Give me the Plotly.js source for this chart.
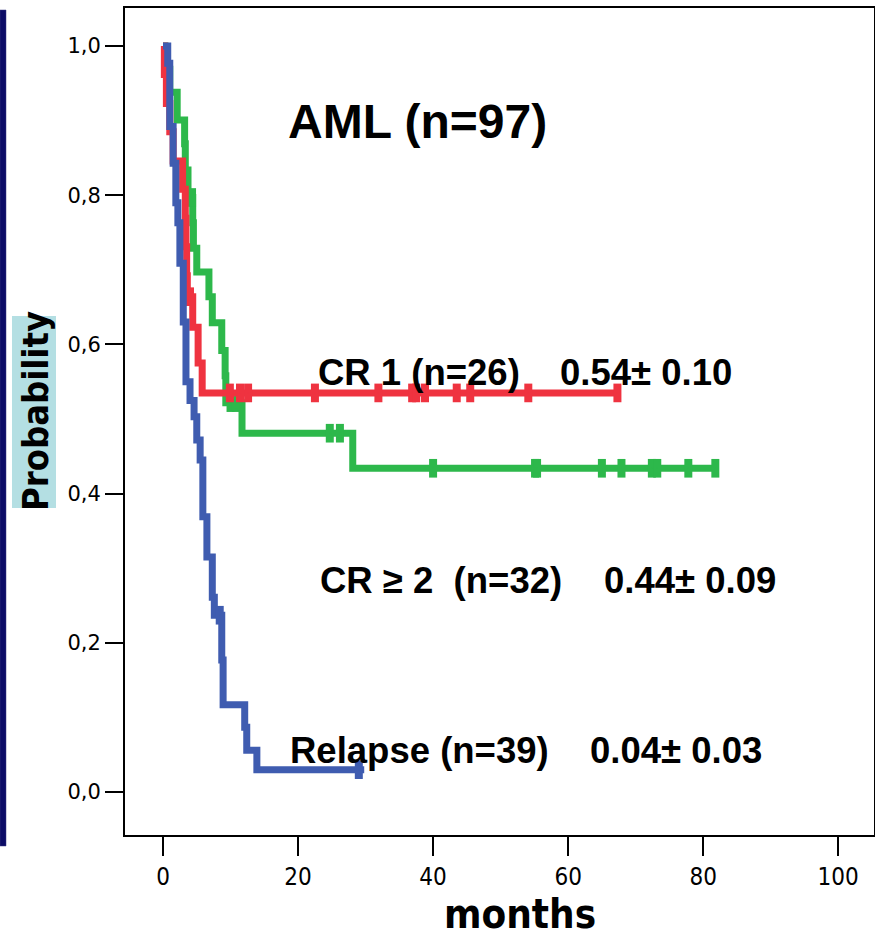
<!DOCTYPE html>
<html>
<head>
<meta charset="utf-8">
<script src="https://cdn.plot.ly/plotly-3.0.1.min.js"></script>
<style>html,body{margin:0;padding:0;background:#fff;}#chart{width:875px;height:939px;}</style>
</head>
<body>
<div id="chart"></div>
<script>
// ---- Data ----
const cr1Times   = [0, 0.2, 0.5, 1.0, 1.5, 2.9, 3.3, 3.4, 3.5, 3.6, 4.4, 5.2, 5.8, 67.3];
const cr1Surv    = [1.0, 0.962, 0.923, 0.885, 0.846, 0.808, 0.769, 0.731, 0.692, 0.664, 0.623, 0.575, 0.535, 0.535];
const cr1Censor  = [4.0, 9.9, 11.4, 12.6, 22.5, 31.9, 36.9, 37.5, 38.8, 43.5, 45.5, 54.1, 67.3];

const cr2Times   = [0, 0.3, 1.0, 2.1, 3.2, 3.3, 3.7, 4.4, 4.5, 5.0, 6.8, 7.3, 8.7, 9.2, 9.3, 11.7, 28.1, 81.8];
const cr2Surv    = [1.0, 0.969, 0.938, 0.901, 0.869, 0.834, 0.797, 0.763, 0.729, 0.697, 0.664, 0.629, 0.592, 0.558, 0.522, 0.481, 0.434, 0.434];
const cr2Censor  = [4.3, 10.0, 10.8, 24.7, 26.2, 40.0, 55.1, 55.4, 65.0, 67.9, 72.4, 73.2, 77.8, 81.8];

const relTimes   = [0, 0.7, 1.0, 1.5, 1.9, 2.2, 2.5, 3.0, 3.4, 4.0, 4.6, 5.0, 5.5, 5.9, 6.5, 7.3, 7.6, 8.7, 8.9, 12.1, 12.4, 13.9, 29.8];
const relSurv    = [1.0, 0.977, 0.892, 0.843, 0.79, 0.763, 0.709, 0.63, 0.55, 0.525, 0.503, 0.472, 0.445, 0.369, 0.315, 0.261, 0.237, 0.177, 0.117, 0.087, 0.056, 0.03, 0.03];
const relCensor  = [8.4, 29.0];

const xTickVals  = [0, 20, 40, 60, 80, 100];
const yTickVals  = [0, 0.2, 0.4, 0.6, 0.8, 1.0];
const yTickText  = ['0,0', '0,2', '0,4', '0,6', '0,8', '1,0'];

const titleText  = 'AML (n=97)';
const groupLabels = ['CR 1 (n=26)', 'CR \u2265 2  (n=32)', 'Relapse (n=39)'];
const groupStats  = ['0.54\u00b1 0.10', '0.44\u00b1 0.09', '0.04\u00b1 0.03'];

// ---- Styles ----
const RED = '#ef3340', GREEN = '#2db84b', BLUE = '#3f5cb0';
const NARROW = 'DejaVu Sans Condensed, Liberation Sans Narrow, Arial Narrow, sans-serif';

function survAt(times, surv, t) {
  let v = surv[0];
  for (let i = 0; i < times.length; i++) { if (times[i] <= t) v = surv[i]; }
  return v;
}
function curve(times, surv, color) {
  return {x: times, y: surv, type: 'scatter', mode: 'lines',
          line: {shape: 'hv', color: color, width: 7}, hoverinfo: 'skip', showlegend: false};
}
function censor(ctimes, times, surv, color) {
  return {x: ctimes, y: ctimes.map(t => survAt(times, surv, t)), type: 'scatter', mode: 'markers',
          marker: {size: 1, color: color},
          error_y: {type: 'constant', value: 0.0125, thickness: 8, width: 0, color: color},
          hoverinfo: 'skip', showlegend: false};
}

const traces = [
  curve(cr2Times, cr2Surv, GREEN), censor(cr2Censor, cr2Times, cr2Surv, GREEN),
  curve(cr1Times, cr1Surv, RED),   censor(cr1Censor, cr1Times, cr1Surv, RED),
  curve(relTimes, relSurv, BLUE),  censor(relCensor, relTimes, relSurv, BLUE)
];

// pixel -> paper helpers (plot area 125..874 x 8..835)
const PL = 125, PR = 874, PT = 8, PB = 835;
const px = v => (v - PL) / (PR - PL);
const py = v => (PB - v) / (PB - PT);

const boldFont = (size) => ({family: 'Liberation Sans, Arial, sans-serif', size: size, color: '#000', weight: 'bold'});

const annotations = [
  {xref: 'paper', yref: 'paper', x: px(417), y: py(122), text: titleText, showarrow: false,
   xanchor: 'center', yanchor: 'middle', font: boldFont(48)},
  {xref: 'paper', yref: 'paper', x: px(316), y: py(372), text: groupLabels[0], showarrow: false,
   xanchor: 'left', yanchor: 'middle', font: boldFont(36.5)},
  {xref: 'paper', yref: 'paper', x: px(558), y: py(372), text: groupStats[0], showarrow: false,
   xanchor: 'left', yanchor: 'middle', font: boldFont(36.5)},
  {xref: 'paper', yref: 'paper', x: px(318), y: py(580), text: groupLabels[1], showarrow: false,
   xanchor: 'left', yanchor: 'middle', font: boldFont(36.5)},
  {xref: 'paper', yref: 'paper', x: px(602), y: py(580), text: groupStats[1], showarrow: false,
   xanchor: 'left', yanchor: 'middle', font: boldFont(36.5)},
  {xref: 'paper', yref: 'paper', x: px(288), y: py(750), text: groupLabels[2], showarrow: false,
   xanchor: 'left', yanchor: 'middle', font: boldFont(36.5)},
  {xref: 'paper', yref: 'paper', x: px(588), y: py(750), text: groupStats[2], showarrow: false,
   xanchor: 'left', yanchor: 'middle', font: boldFont(36.5)},
  {xref: 'paper', yref: 'paper', x: px(520), y: py(914), text: 'months', showarrow: false,
   xanchor: 'center', yanchor: 'middle',
   font: {family: NARROW, size: 40, color: '#000', weight: 'bold'}},
  {xref: 'paper', yref: 'paper', x: px(35), y: py(411), text: 'Probability', showarrow: false,
   textangle: -90, xanchor: 'center', yanchor: 'middle',
   font: {family: NARROW, size: 36, color: '#000', weight: 'bold'}}
];

const shapes = [
  {type: 'rect', xref: 'paper', yref: 'paper', x0: px(12), x1: px(56), y0: py(508), y1: py(316),
   fillcolor: '#b4dfe3', line: {width: 0}, layer: 'below'},
  {type: 'rect', xref: 'paper', yref: 'paper', x0: px(0), x1: px(6), y0: py(846), y1: py(10),
   fillcolor: '#0c0c66', line: {width: 0.5, color: '#3a3a80'}}
];

const layout = {
  width: 875, height: 939,
  margin: {l: PL, r: 875 - PR, t: PT, b: 939 - PB, pad: 0},
  paper_bgcolor: '#fff', plot_bgcolor: '#fff',
  showlegend: false,
  xaxis: {range: [-5.63, 105.3], tickvals: xTickVals, ticks: 'outside', ticklen: 19, tickwidth: 2,
          tickcolor: '#000', showline: true, mirror: true, linecolor: '#000', linewidth: 2,
          showgrid: false, zeroline: false,
          tickfont: {family: NARROW, size: 24, color: '#000'}},
  yaxis: {range: [-0.0576, 1.051], tickvals: yTickVals, ticktext: yTickText, ticks: 'outside', ticklen: 18,
          tickwidth: 2, tickcolor: '#000', showline: true, mirror: true, linecolor: '#000', linewidth: 2,
          showgrid: false, zeroline: false,
          tickfont: {family: 'DejaVu Sans, sans-serif', size: 21, color: '#000'}},
  annotations: annotations,
  shapes: shapes
};

Plotly.newPlot('chart', traces, layout, {staticPlot: true, displayModeBar: false});
</script>
</body>
</html>
